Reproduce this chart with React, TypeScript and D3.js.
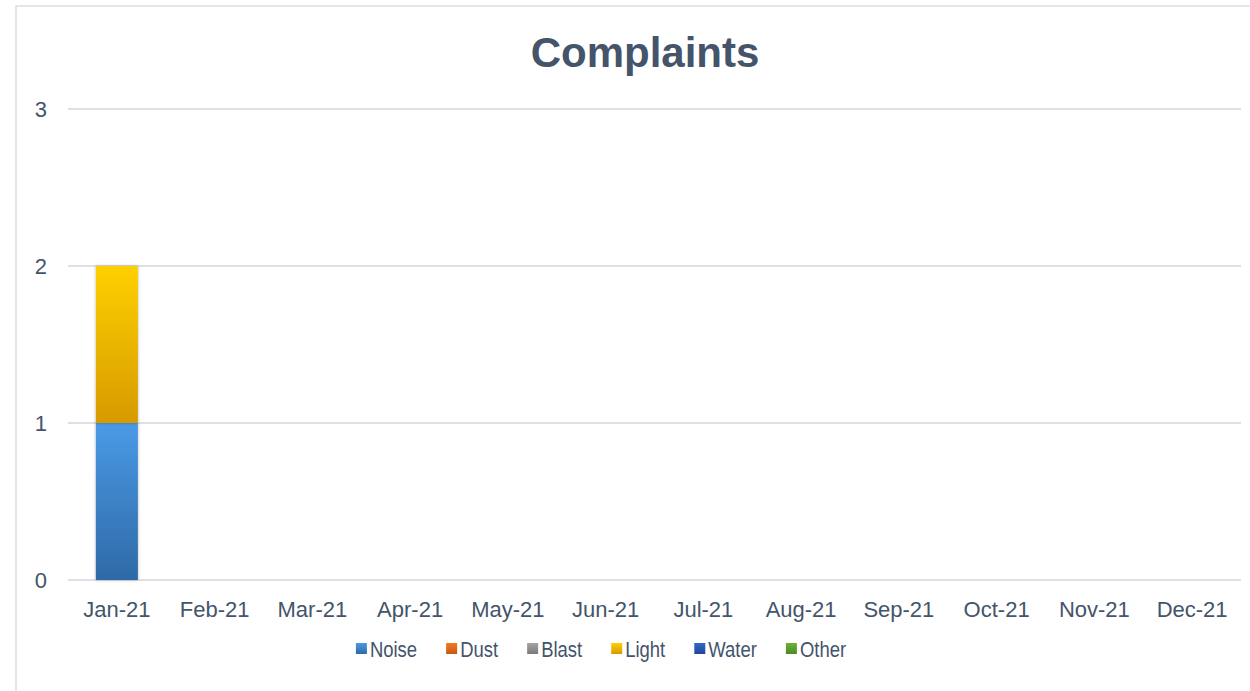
import React from 'react'
import * as d3 from 'd3'

const months = ['Jan-21', 'Feb-21', 'Mar-21', 'Apr-21', 'May-21', 'Jun-21', 'Jul-21', 'Aug-21', 'Sep-21', 'Oct-21', 'Nov-21', 'Dec-21']
const noise = [1, 0, 0, 0, 0, 0, 0, 0, 0, 0, 0, 0]
const dust = [0, 0, 0, 0, 0, 0, 0, 0, 0, 0, 0, 0]
const blast = [0, 0, 0, 0, 0, 0, 0, 0, 0, 0, 0, 0]
const light = [1, 0, 0, 0, 0, 0, 0, 0, 0, 0, 0, 0]
const water = [0, 0, 0, 0, 0, 0, 0, 0, 0, 0, 0, 0]
const other = [0, 0, 0, 0, 0, 0, 0, 0, 0, 0, 0, 0]
const yTicks = [0, 1, 2, 3]

const seriesNames = ['Noise', 'Dust', 'Blast', 'Light', 'Water', 'Other']
const seriesValues = [noise, dust, blast, light, water, other]
// top / bottom colours of each gradient
const colours: [string, string][] = [
  ['#4a9ae6', '#2e6aa6'],
  ['#f47a22', '#c95712'],
  ['#a5a5a5', '#7a7a7a'],
  ['#ffd000', '#d69a00'],
  ['#3267c8', '#20479a'],
  ['#6cb33a', '#4b8a24'],
]

const FONT = '"Liberation Sans", Arial, sans-serif'
const TEXT = '#44546a'

const W = 1250
const H = 691
const plot = { left: 68, right: 1241, top: 109, bottom: 580 }

let ctx: CanvasRenderingContext2D | null = null
function textWidth (s: string, size: number) {
  if (!ctx) ctx = document.createElement('canvas').getContext('2d')
  if (!ctx) return s.length * size * 0.55
  ctx.font = `${size}px ${FONT}`
  return ctx.measureText(s).width
}

export default function App () {
  const table = months.map((m, i) => {
    const row: any = { month: m }
    seriesNames.forEach((n, k) => { row[n] = seriesValues[k][i] })
    return row
  })
  const stacked = d3.stack().keys(seriesNames)(table)

  const x = d3.scaleBand().domain(months).range([plot.left, plot.right]).padding(0)
  const y = d3.scaleLinear().domain([0, 3]).range([plot.bottom, plot.top])
  const barW = x.bandwidth() * 0.43

  // legend layout (text is a little condensed, like the original)
  const legendSize = 22
  const squeeze = 0.84
  const marker = 11
  const itemGap = 29
  const widths = seriesNames.map(n => marker + 3 + textWidth(n, legendSize) * squeeze)
  const total = d3.sum(widths) + itemGap * (seriesNames.length - 1)
  let lx = 601 - total / 2
  const legendX = widths.map(w => { const v = lx; lx += w + itemGap; return v })

  return (
    <div style={{ position: 'absolute', left: 0, top: 0 }}>
      <svg width={W} height={H} style={{ display: 'block', background: '#fff' }} fontFamily={FONT}>
        <defs>
          {colours.map((c, k) => (
            <linearGradient key={k} id={`g${k}`} x1="0" y1="0" x2="0" y2="1">
              <stop offset="0" stopColor={c[0]} />
              <stop offset="1" stopColor={c[1]} />
            </linearGradient>
          ))}
          <filter id="shadow" x="-30%" y="-5%" width="160%" height="110%">
            <feDropShadow dx="0" dy="0" stdDeviation="1.8" floodColor="#000" floodOpacity="0.3" />
          </filter>
        </defs>
        <rect x={16} y={6} width={1400} height={900} fill="#fff" stroke="#dadde2" strokeWidth={1.5} />

        <text x={645} y={67} textAnchor="middle" fontSize={42} fontWeight="bold" fill={TEXT}>Complaints</text>

        {yTicks.map(t => (
          <g key={t}>
            <line x1={plot.left} x2={plot.right} y1={y(t)} y2={y(t)} stroke="#dde1e7" strokeWidth={2} />
            <text x={47} y={y(t)} dy="0.36em" textAnchor="end" fontSize={22} fill={TEXT}>{t}</text>
          </g>
        ))}

        {stacked.map((s, k) => (
          <g key={s.key} fill={`url(#g${k})`} filter="url(#shadow)">
            {s.map((d, i) => d[1] - d[0] > 0 && (
              <rect key={i}
                x={(x(months[i]) as number) + x.bandwidth() / 2 - barW / 2}
                y={y(d[1])}
                width={barW}
                height={y(d[0]) - y(d[1])} />
            ))}
          </g>
        ))}

        {months.map(m => (
          <text key={m} x={(x(m) as number) + x.bandwidth() / 2} y={617} textAnchor="middle" fontSize={22} fill={TEXT}>{m}</text>
        ))}

        {seriesNames.map((n, k) => (
          <g key={n} transform={`translate(${legendX[k]}, 643)`}>
            <rect width={marker} height={marker} fill={`url(#g${k})`} />
            <text transform={`translate(${marker + 3}, ${marker / 2 + 8}) scale(${squeeze}, 1)`} fontSize={legendSize} fill={TEXT}>{n}</text>
          </g>
        ))}
      </svg>
    </div>
  )
}
